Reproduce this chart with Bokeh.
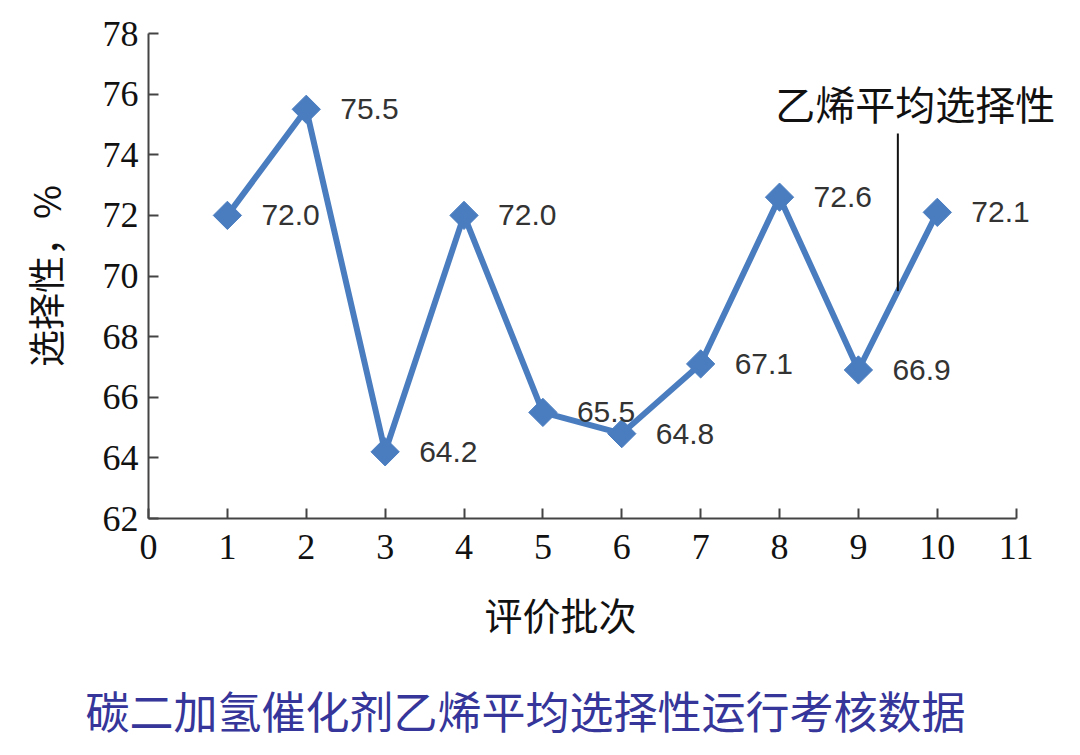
from bokeh.plotting import figure
from bokeh.models import ColumnDataSource, LabelSet, Label, Range1d, FixedTicker, Title
from bokeh.embed import file_html
from bokeh.resources import INLINE
from bokeh.core.properties import value

# ---- data ----
batches = [1, 2, 3, 4, 5, 6, 7, 8, 9, 10]
selectivity = [72.0, 75.5, 64.2, 72.0, 65.5, 64.8, 67.1, 72.6, 66.9, 72.1]
x_ticks = [0, 1, 2, 3, 4, 5, 6, 7, 8, 9, 10, 11]
y_ticks = [62, 64, 66, 68, 70, 72, 74, 76, 78]
x_label = "评价批次"
y_label = "选择性，%"
annotation_text = "乙烯平均选择性"
caption_text = "碳二加氢催化剂乙烯平均选择性运行考核数据"

LINE_COLOR = "#4a7dc0"
AXIS_COLOR = "#444444"
CJK = "Noto Sans CJK SC"
SERIF = "Liberation Serif"

X_END = 11.6  # room to the right of the axis for the annotation text

p = figure(width=1080, height=755, output_backend="svg", toolbar_location=None,
           x_range=Range1d(0, X_END), y_range=Range1d(62, 78),
           min_border_left=148, min_border_right=17, min_border_top=33, min_border_bottom=0)
p.outline_line_color = None
p.xgrid.visible = False
p.ygrid.visible = False
p.background_fill_color = "white"
p.border_fill_color = "white"

# axes
for ax in (p.xaxis[0], p.yaxis[0]):
    ax.axis_line_color = AXIS_COLOR
    ax.axis_line_width = 2
    ax.major_tick_line_color = AXIS_COLOR
    ax.major_tick_line_width = 2
    ax.major_tick_in = 10
    ax.major_tick_out = 0
    ax.minor_tick_line_color = None
    ax.major_label_text_font = SERIF
    ax.major_label_text_font_size = "36px"
    ax.major_label_text_color = "#111111"
    ax.axis_label_text_font = CJK
    ax.axis_label_text_font_size = "37px"
    ax.axis_label_text_font_style = "normal"
    ax.axis_label_text_color = "#111111"

p.xaxis.bounds = (x_ticks[0], x_ticks[-1])
p.xaxis.ticker = FixedTicker(ticks=x_ticks)
p.yaxis.ticker = FixedTicker(ticks=y_ticks)
p.yaxis.axis_label = y_label
p.xaxis.major_label_standoff = 16
p.yaxis.major_label_standoff = 10
p.yaxis.axis_label_standoff = 28

src = ColumnDataSource(dict(x=batches, y=selectivity,
                            lbl=[f"{v:.1f}" for v in selectivity]))

p.line("x", "y", source=src, line_color=LINE_COLOR, line_width=6)
p.scatter("x", "y", source=src, marker="square", size=20, angle=0.785398,
          fill_color=LINE_COLOR, line_color=LINE_COLOR)

labels = LabelSet(x="x", y="y", text="lbl", source=src, x_offset=34, y_offset=0,
                  text_baseline="middle", text_align="left",
                  text_font=value("Liberation Sans"), text_font_size="30px",
                  text_color="#333333")
p.add_layout(labels)

# annotation: pointer to segment between batch 9 and 10
x_mid = (batches[8] + batches[9]) / 2
y_mid = (selectivity[8] + selectivity[9]) / 2
pointer_src = ColumnDataSource(dict(x0=[x_mid], y0=[y_mid], x1=[x_mid], y1=[74.7]))
p.segment(x0="x0", y0="y0", x1="x1", y1="y1", source=pointer_src,
          line_color="#111111", line_width=2)
p.add_layout(Label(x=x_mid + 0.22, y=75.7, text=annotation_text, text_align="center",
                   text_baseline="middle", text_font=CJK, text_font_size="40px",
                   text_color="#111111"))

# x-axis title (as a below title so it can sit where the original has it)
xt = Title(text=x_label, align="left", offset=336, standoff=44,
           text_font=CJK, text_font_size="38px", text_font_style="normal",
           text_color="#111111")
p.add_layout(xt, "below")

# caption below the chart
cap = Title(text=caption_text, align="left", offset=-63, standoff=27,
            text_font=CJK, text_font_size="44px", text_font_style="normal",
            text_color="#35359a")
p.add_layout(cap, "below")

open("out.html", "w").write(file_html(p, INLINE))
